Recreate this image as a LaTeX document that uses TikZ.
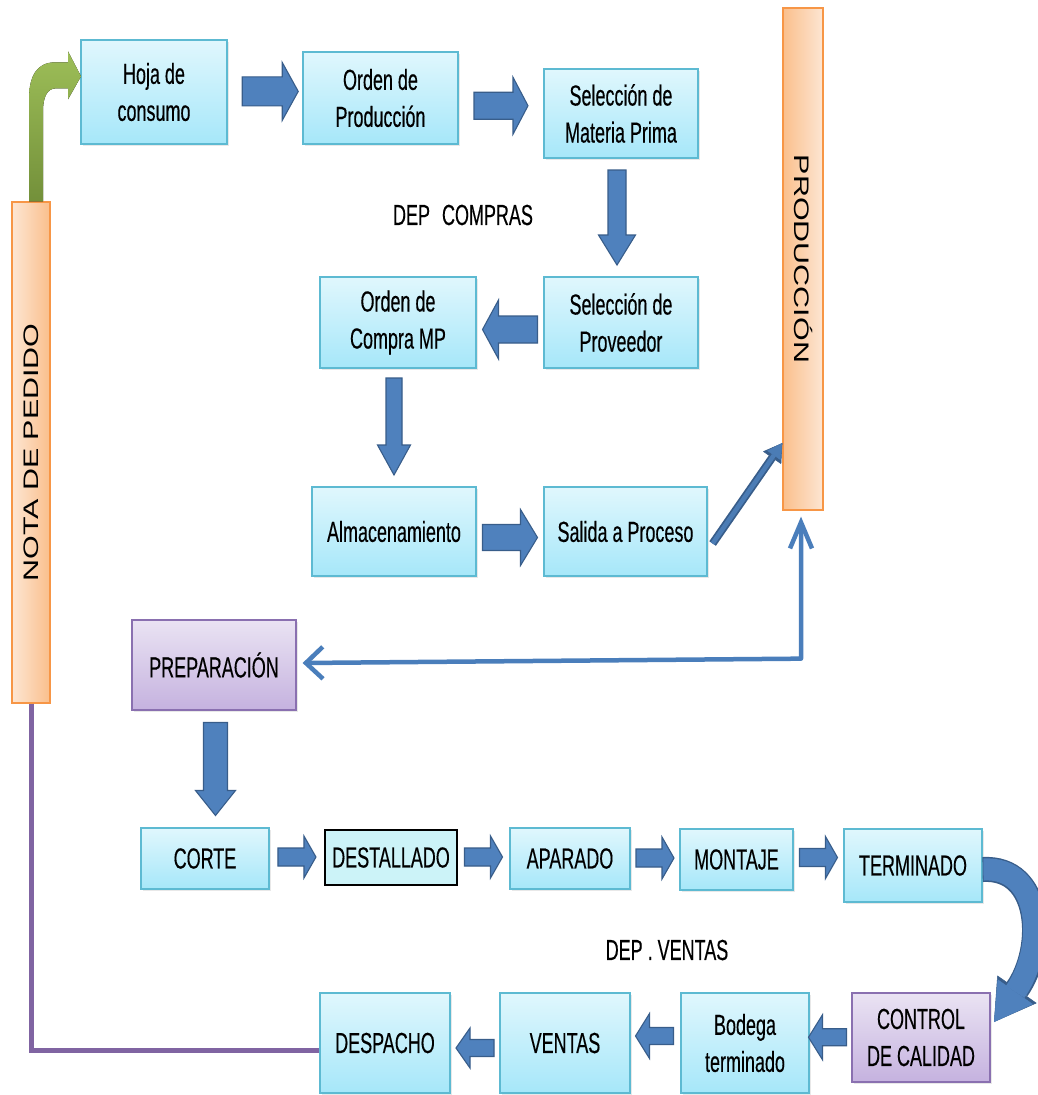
\documentclass[tikz,border=0pt]{standalone}
\usepackage{fontspec}
\setmainfont{Liberation Sans}
\newfontfamily\condfont[FakeStretch=0.62,FakeBold=0.3]{Liberation Sans}
\newfontfamily\tallfont[FakeStretch=1.45]{Liberation Sans}
\usetikzlibrary{calc,arrows.meta,shadows}

\definecolor{boxtop}{HTML}{E0F7FD}
\definecolor{boxbot}{HTML}{A6E7F9}
\definecolor{boxline}{HTML}{5DBAD2}
\definecolor{lilactop}{HTML}{EAE3F3}
\definecolor{lilacbot}{HTML}{C5B2DF}
\definecolor{lilacline}{HTML}{8A70B0}
\definecolor{peachlight}{HTML}{FDE6D3}
\definecolor{peachdark}{HTML}{FABF8C}
\definecolor{peachline}{HTML}{F79646}
\definecolor{arrowfill}{HTML}{4F81BD}
\definecolor{arrowline}{HTML}{385D8A}
\definecolor{linkblue}{HTML}{4A7EBB}
\definecolor{leaflight}{HTML}{9DBE58}
\definecolor{leafdark}{HTML}{73903A}
\definecolor{plum}{HTML}{8064A2}
\definecolor{destfill}{HTML}{CCF3F8}

\tikzset{
  txt/.style={font=\condfont\fontsize{29pt}{37pt}\selectfont, align=center},
  stage/.style={txt, draw=boxline, line width=1.2pt, top color=boxtop, bottom color=boxbot,
    inner sep=0pt, drop shadow={shadow xshift=1.5pt, shadow yshift=-2pt, opacity=.18}},
  lilacstage/.style={stage, draw=lilacline, top color=lilactop, bottom color=lilacbot},
  plainstage/.style={txt, draw=black, line width=1.3pt, fill=destfill, inner sep=0pt},
  bar/.style={draw=peachline, line width=1.3pt, inner sep=0pt,
    font=\tallfont\fontsize{21pt}{24pt}\selectfont},
  % block arrow pointing along +x, centred on the pic origin:
  % length, shaft width, head width, head length
  pics/blockarrow/.style n args={4}{code={%
    \draw[line width=1.1pt, draw=arrowline, fill=arrowfill, line join=miter]
      ({-#1/2},{-#2/2}) -- ({#1/2-#4},{-#2/2}) -- ({#1/2-#4},{-#3/2}) -- ({#1/2},0)
      -- ({#1/2-#4},{#3/2}) -- ({#1/2-#4},{#2/2}) -- ({-#1/2},{#2/2}) -- cycle;}},
}

\begin{document}
\begin{tikzpicture}[x=1pt, y=-1pt]
\fill[white] (0,0) rectangle (1038,1095);
\useasboundingbox (0,0) rectangle (1038,1095);

% side bars
\node[bar, left color=peachlight, right color=peachdark, minimum width=38pt, minimum height=501pt]
  (nota) at (31,452.5) {\rotatebox{90}{NOTA DE PEDIDO}};
\node[bar, left color=peachdark, right color=peachlight, minimum width=40pt, minimum height=502pt]
  (prod) at (803,259) {\rotatebox{-90}{PRODUCCIÓN}};

% purchasing chain
\node[stage, minimum width=146pt, minimum height=104pt] (hoja) at (154,92) {Hoja de\\consumo};
\node[stage, minimum width=155pt, minimum height=92pt] (ordenp) at (380.5,98) {Orden de\\Producción};
\node[stage, minimum width=154pt, minimum height=89pt] (selmp) at (621,113.5) {Selección de\\Materia Prima};
\node[txt] (depc) at (463,215) {DEP\hspace{12pt}COMPRAS};
\node[stage, minimum width=154pt, minimum height=91pt] (selprov) at (621,322.5) {Selección de\\Proveedor};
\node[stage, minimum width=156pt, minimum height=91pt] (ordenc) at (398,322.5) {Orden de\\Compra MP};
\node[stage, minimum width=164pt, minimum height=89pt] (alm) at (394,531.5) {Almacenamiento};
\node[stage, minimum width=163pt, minimum height=89pt] (salida) at (625.5,531.5) {Salida a Proceso};

% production line
\node[lilacstage, minimum width=164pt, minimum height=90pt] (prep) at (214,665) {PREPARACIÓN};
\node[stage, minimum width=128pt, minimum height=61pt] (corte) at (205,858.5) {CORTE};
\node[plainstage, minimum width=132pt, minimum height=55pt] (dest) at (391,857.5) {DESTALLADO};
\node[stage, minimum width=120pt, minimum height=61pt] (aparado) at (570,858.5) {APARADO};
\node[stage, minimum width=113pt, minimum height=61pt] (montaje) at (736.5,859.5) {MONTAJE};
\node[stage, minimum width=138pt, minimum height=73pt] (termin) at (913,865.5) {TERMINADO};

% sales chain
\node[txt] (depv) at (667,950) {DEP . VENTAS};
\node[lilacstage, minimum width=138pt, minimum height=89pt] (control) at (921,1037.5) {CONTROL\\DE CALIDAD};
\node[stage, minimum width=128pt, minimum height=100pt] (bodega) at (745,1043) {Bodega\\terminado};
\node[stage, minimum width=130pt, minimum height=100pt] (ventas) at (565,1043) {VENTAS};
\node[stage, minimum width=130pt, minimum height=100pt] (despacho) at (385,1043) {DESPACHO};

% block arrows between stages
\pic at ($(hoja.east)!.57!(ordenp.west)+(0,-4)$) {blockarrow={56}{29}{58}{16}};
\pic at ($(ordenp.east)!.5!(selmp.west)$) {blockarrow={54}{27}{57}{15}};
\pic[rotate=-90] at ($(selmp.south)!.5!(selprov.north)+(-4,0)$) {blockarrow={95}{18}{37}{30}};
\pic[rotate=180] at ($(selprov.west)!.5!(ordenc.east)+(0,7)$) {blockarrow={55}{27}{59}{16}};
\pic[rotate=-90] at ($(ordenc.south)!.5!(alm.north)+(-2,-1)$) {blockarrow={97}{16}{33}{30}};
\pic at ($(alm.east)!.5!(salida.west)+(0,6)$) {blockarrow={55}{26}{56}{17}};
\pic[rotate=-90] at ($(prep.south)!.5!(corte.north)+(6,0)$) {blockarrow={93}{24}{40}{25}};
\pic at ($(corte.east)!.5!(dest.west)+(0,-1)$) {blockarrow={38}{18}{42}{12}};
\pic at ($(dest.east)!.5!(aparado.west)+(0,-1)$) {blockarrow={38}{18}{42}{12}};
\pic at ($(aparado.east)!.5!(montaje.west)+(0,-1)$) {blockarrow={38}{18}{42}{12}};
\pic at ($(montaje.east)!.5!(termin.west)+(0,-5)$) {blockarrow={38}{18}{42}{12}};
\pic[rotate=180] at ($(control.west)!.5!(bodega.east)+(-3,-3)$) {blockarrow={38}{17}{45}{14}};
\pic[rotate=180] at ($(bodega.west)!.5!(ventas.east)+(-1,-7)$) {blockarrow={38}{17}{45}{14}};
\pic[rotate=180] at ($(ventas.west)!.5!(despacho.east)+(0,5)$) {blockarrow={38}{17}{40}{14}};

% order note feeds the consumption sheet: bent block arrow
\begin{scope}[shift={(nota.north)}]
  \fill[top color=leaflight, bottom color=leafdark]
    (-2,0) -- (-2,-102) .. controls (-2,-127) and (7,-139) .. (24,-139) -- (37,-139)
    -- (37,-150) -- (50,-125) -- (37,-102) -- (37,-113) -- (25,-113)
    .. controls (16,-113) and (12,-104) .. (12,-90) -- (12,0) -- cycle;
\end{scope}

% dispatch closes the loop back to the order note
\draw[line width=5pt, plum] (nota.south) |- ($(despacho.west)+(0,7)$);

% material issue goes to production
\coordinate (issue) at ($(salida.east)+(5,12)$);
\coordinate (prodin) at ($(prod.west)+(0,184)$);
\draw[line width=8pt, arrowline, -{Triangle[length=18pt,width=22pt,line width=0.5pt]}] (issue) -- (prodin);
\draw[line width=4.5pt, arrowfill!85!arrowline, -{Triangle[length=15pt,width=16pt,line width=0.5pt]}] (issue) -- (prodin);

% production and preparation
\coordinate (turn) at ($(prod.south)+(-2,148)$);
\draw[line width=4.5pt, linkblue, line join=round,
  {Straight Barb[length=17pt,width=32pt]}-{Straight Barb[length=26pt,width=22pt]}]
  ($(prep.east)+(6,-2)$) -- (turn) -- ($(prod.south)+(-2,6)$);

% finished goods go to quality control
\coordinate (qctip) at (994,1022);
\draw[line width=25pt, arrowline, -{Triangle[length=40pt,width=48pt,line width=0.5pt]}]
  ($(termin.east)+(0,4)$) .. controls (1042,866) and (1046,948) .. (qctip);
\draw[line width=22pt, arrowfill, -{Triangle[length=37pt,width=43pt,line width=0.5pt]}]
  ($(termin.east)+(0.8,4)$) .. controls (1042,866) and (1046,948) .. (qctip);
\end{tikzpicture}
\end{document}
